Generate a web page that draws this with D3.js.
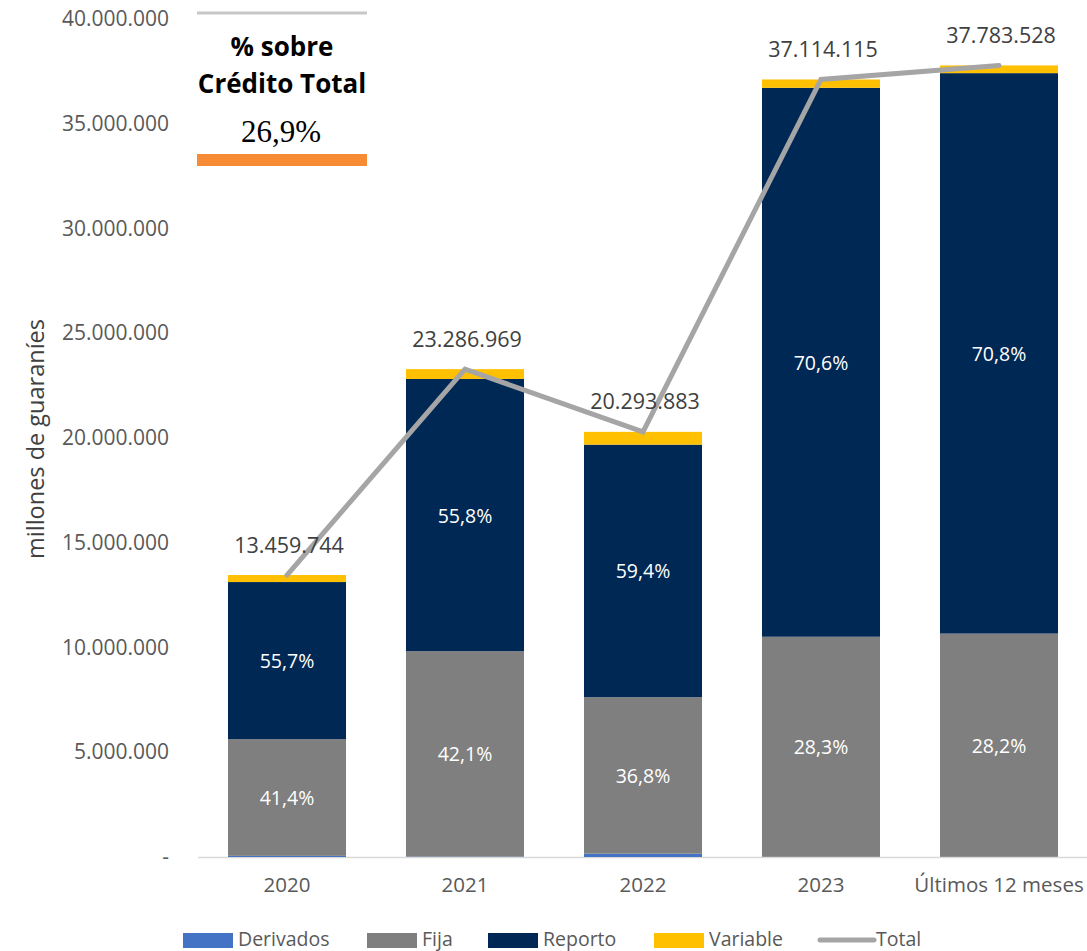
<!DOCTYPE html>
<html><head><meta charset="utf-8">
<script src="https://cdn.jsdelivr.net/npm/d3@7"></script>
<style>
body{margin:0;background:#fff;}
svg{display:block;font-family:"Open Sans",sans-serif;}
</style></head><body>
<svg id="chart" width="1087" height="951"></svg>
<script>
const categories = ["2020","2021","2022","2023","Últimos 12 meses"];
const derivados = [55000, 20000, 160000, 10000, 10000];
const fija = [5572334, 9803814, 7468149, 10503295, 10654955];
const reporto = [7497077, 12994129, 12054567, 26202565, 26750738];
const variable = [335333, 469026, 611167, 398255, 367835];
const total = [13459744, 23286969, 20293883, 37114115, 37783528];
const fijaLabels = ["41,4%","42,1%","36,8%","28,3%","28,2%"];
const reportoLabels = ["55,7%","55,8%","59,4%","70,6%","70,8%"];
const yTicks = [0,5000000,10000000,15000000,20000000,25000000,30000000,35000000,40000000];
const seriesNames = ["Derivados","Fija","Reporto","Variable"];
const colors = {Derivados:"#4472C4",Fija:"#7F7F7F",Reporto:"#002855",Variable:"#FFC000",Total:"#A5A5A5"};
const boxTitle = ["% sobre","Crédito Total"];
const boxValue = "26,9%";

const svg = d3.select("#chart");
const x = d3.scaleBand().domain(categories).range([198,1088]).paddingInner(0.337).paddingOuter(0.1685);
const y = d3.scaleLinear().domain([0,40000000]).range([857,19]);
const fmt = v => v===0 ? "-" : d3.format(",")(v).replace(/,/g,".");

const rows = categories.map((c,i)=>({cat:c,Derivados:derivados[i],Fija:fija[i],Reporto:reporto[i],Variable:variable[i]}));
const stack = d3.stack().keys(seriesNames)(rows);

// y axis
const yAxis = d3.axisLeft(y).tickValues(yTicks).tickFormat(fmt).tickSize(0).tickPadding(0);
const gy = svg.append("g").attr("transform","translate(169,0)").call(yAxis);
gy.select(".domain").remove();
gy.selectAll("text").attr("font-size",21).attr("fill","#595959").attr("font-family","Open Sans, sans-serif");

// baseline
svg.append("line").attr("x1",198).attr("x2",1087).attr("y1",y(0)+0.5).attr("y2",y(0)+0.5)
  .attr("stroke","#d9d9d9").attr("stroke-width",1.5);

// bars
stack.forEach(s=>{
  svg.append("g").selectAll("rect").data(s).join("rect")
    .attr("x",d=>x(d.data.cat)).attr("width",x.bandwidth())
    .attr("y",d=>y(d[1])).attr("height",d=>y(d[0])-y(d[1]))
    .attr("fill",colors[s.key]);
});

// segment labels
const fijaS = stack[1], repS = stack[2];
svg.append("g").selectAll("text").data(fijaS).join("text")
  .attr("x",d=>x(d.data.cat)+x.bandwidth()/2).attr("y",d=>(y(d[0])+y(d[1]))/2)
  .attr("text-anchor","middle").attr("dominant-baseline","central")
  .attr("fill","#fff").attr("font-size",19.5).text((d,i)=>fijaLabels[i]);
svg.append("g").selectAll("text").data(repS).join("text")
  .attr("x",d=>x(d.data.cat)+x.bandwidth()/2).attr("y",d=>(y(d[0])+y(d[1]))/2)
  .attr("text-anchor","middle").attr("dominant-baseline","central")
  .attr("fill","#fff").attr("font-size",19.5).text((d,i)=>reportoLabels[i]);

// x axis labels
const xAxis = d3.axisBottom(x).tickSize(0).tickPadding(0);
const gx = svg.append("g").attr("transform","translate(0,877)").call(xAxis);
gx.select(".domain").remove();
gx.selectAll("text").attr("font-size",20.5).attr("fill","#595959").attr("font-family","Open Sans, sans-serif");

// total line
const line = d3.line().x((d,i)=>x(categories[i])+x.bandwidth()/2).y(d=>y(d));
svg.append("path").datum(total).attr("d",line).attr("fill","none")
  .attr("stroke",colors.Total).attr("stroke-width",5).attr("stroke-linejoin","miter").attr("stroke-linecap","round");

// total labels
svg.append("g").selectAll("text").data(total).join("text")
  .attr("x",(d,i)=>x(categories[i])+x.bandwidth()/2+2).attr("y",d=>y(d)-31)
  .attr("text-anchor","middle").attr("dominant-baseline","central")
  .attr("fill","#404040").attr("font-size",21.5).text(d=>fmt(d));

// y title
svg.append("text").attr("transform","translate(35,439) rotate(-90)")
  .attr("text-anchor","middle").attr("dominant-baseline","central")
  .attr("fill","#404040").attr("font-size",23.5).text("millones de guaraníes");

// top-left box
svg.append("line").attr("x1",197).attr("x2",367).attr("y1",13).attr("y2",13).attr("stroke","#c8c8c8").attr("stroke-width",3);
svg.append("text").attr("x",282).attr("y",46).attr("text-anchor","middle").attr("dominant-baseline","central")
  .attr("font-weight","bold").attr("font-size",26).attr("fill","#000").text(boxTitle[0]);
svg.append("text").attr("x",282).attr("y",83).attr("text-anchor","middle").attr("dominant-baseline","central")
  .attr("font-weight","bold").attr("font-size",26).attr("fill","#000").text(boxTitle[1]);
svg.append("text").attr("x",281).attr("y",131).attr("text-anchor","middle").attr("dominant-baseline","central")
  .attr("font-family","Liberation Serif, serif").attr("font-size",31).attr("fill","#000").text(boxValue);
svg.append("rect").attr("x",197).attr("y",154).attr("width",170).attr("height",12).attr("fill","#F68B33");

// legend
const legendItems = [
  {name:"Derivados",x:183,type:"rect"},
  {name:"Fija",x:367,type:"rect"},
  {name:"Reporto",x:488,type:"rect"},
  {name:"Variable",x:654,type:"rect"},
  {name:"Total",x:820,type:"line"}
];
const lg = svg.append("g");
legendItems.forEach(it=>{
  if(it.type==="rect"){
    lg.append("rect").attr("x",it.x).attr("y",933).attr("width",50).attr("height",15).attr("fill",colors[it.name]);
  } else {
    lg.append("line").attr("x1",it.x).attr("x2",it.x+54).attr("y1",940).attr("y2",940)
      .attr("stroke",colors.Total).attr("stroke-width",5).attr("stroke-linecap","round");
  }
  lg.append("text").attr("x",it.x+(it.type==="rect"?55:56)).attr("y",938).attr("dominant-baseline","central")
    .attr("font-size",19.5).attr("fill","#595959").text(it.name);
});
</script></body></html>
